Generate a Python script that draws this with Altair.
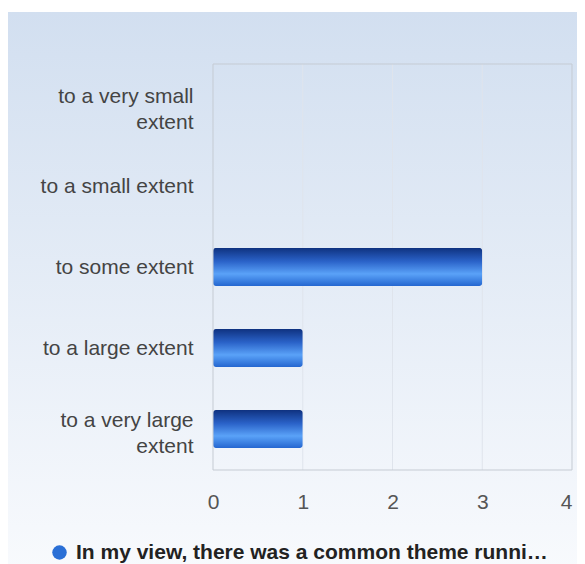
import altair as alt
import pandas as pd

categories = ["to a very small extent", "to a small extent", "to some extent",
              "to a large extent", "to a very large extent"]
values = [0, 0, 3, 1, 1]
series_name = "In my view, there was a common theme runni\u2026"
x_ticks = [0, 1, 2, 3, 4]
wrapped = {
    "to a very small extent": ["to a very small", "extent"],
    "to a very large extent": ["to a very large", "extent"],
}

W, H = 359, 406

df = pd.DataFrame({"category": categories, "value": values, "series": series_name})
grid_df = pd.DataFrame({"x": x_ticks[1:-1]})

label_expr = " : ".join(
    [f"datum.value == '{k}' ? {v!r}" for k, v in wrapped.items()] + ["datum.value"]
)
wrap_test = " || ".join(f"datum.value == '{k}'" for k in wrapped)

bg = alt.Chart(pd.DataFrame({"a": [0]})).mark_rect(
    clip=False,
    fill=alt.Gradient(
        gradient="linear", x1=0, y1=0, x2=0, y2=1,
        stops=[alt.GradientStop(offset=0, color="#d2dff0"),
               alt.GradientStop(offset=1, color="#f8fafd")],
    ),
).encode(
    x=alt.value(-205), x2=alt.value(W + 20),
    y=alt.value(-52), y2=alt.value(H + 100),
)

grid = alt.Chart(grid_df).mark_rule(color="#dfe4ec", strokeWidth=1).encode(
    x=alt.X("x:Q", scale=alt.Scale(domain=[0, 4])),
)

border = alt.Chart(pd.DataFrame({"a": [0]})).mark_rect(
    fill=None, stroke="#c5cbd3", strokeWidth=1
).encode(x=alt.value(0), x2=alt.value(W), y=alt.value(0), y2=alt.value(H))

bar_grad = alt.Gradient(
    gradient="linear", x1=0, y1=0, x2=0, y2=1,
    stops=[alt.GradientStop(offset=0, color="#0f3280"),
           alt.GradientStop(offset=0.35, color="#2a62c8"),
           alt.GradientStop(offset=0.68, color="#5aa2f8"),
           alt.GradientStop(offset=1, color="#2466d0")],
)

FONT = "Liberation Sans"

bars = alt.Chart(df).mark_bar(
    fill=bar_grad, cornerRadius=3
).encode(
    x=alt.X("value:Q", scale=alt.Scale(domain=[0, 4]),
            axis=alt.Axis(values=x_ticks, format="d", title=None, grid=False,
                          domain=False, ticks=False, labelFontSize=21,
                          labelColor="#555555", labelFont=FONT, labelPadding=21,
                          labelFlush=False, zindex=1,
                          labelAlign={"condition": {"test": f"datum.value == {x_ticks[-1]}",
                                                    "value": "right"},
                                      "value": "center"})),
    y=alt.Y("category:N", sort=categories,
            scale=alt.Scale(paddingInner=0.53, paddingOuter=0.27),
            axis=alt.Axis(title=None, domain=False, ticks=False, labelFontSize=21,
                          labelColor="#444444", labelFont=FONT,
                          labelPadding=20, labelLimit=300, labelExpr=label_expr,
                          labelLineHeight=26, zindex=1,
                          labelOffset={"condition": {"test": wrap_test, "value": -8},
                                       "value": 1})),
)

legend_pts = alt.Chart(df).mark_point(opacity=0, filled=True).encode(
    x=alt.X("value:Q"),
    y=alt.Y("category:N", sort=categories),
    color=alt.Color("series:N", scale=alt.Scale(range=["#2a6fd6"]),
                    legend=alt.Legend(orient="none", legendX=-164, legendY=478,
                                      title=None, symbolType="circle",
                                      symbolSize=210, symbolOpacity=1,
                                      symbolStrokeWidth=0,
                                      labelFontSize=21, labelFontWeight="bold",
                                      labelColor="#222222", labelFont=FONT,
                                      labelLimit=600, labelOffset=6)),
)

chart = alt.layer(bg, grid, bars, border, legend_pts).properties(
    width=W, height=H,
    autosize=alt.AutoSizeParams(type="none"),
    padding={"left": 205, "top": 56, "right": 5, "bottom": 94},
).configure_view(stroke=None).configure(background="white")

chart.save("out.html", embed_options={"renderer": "svg", "actions": False})
